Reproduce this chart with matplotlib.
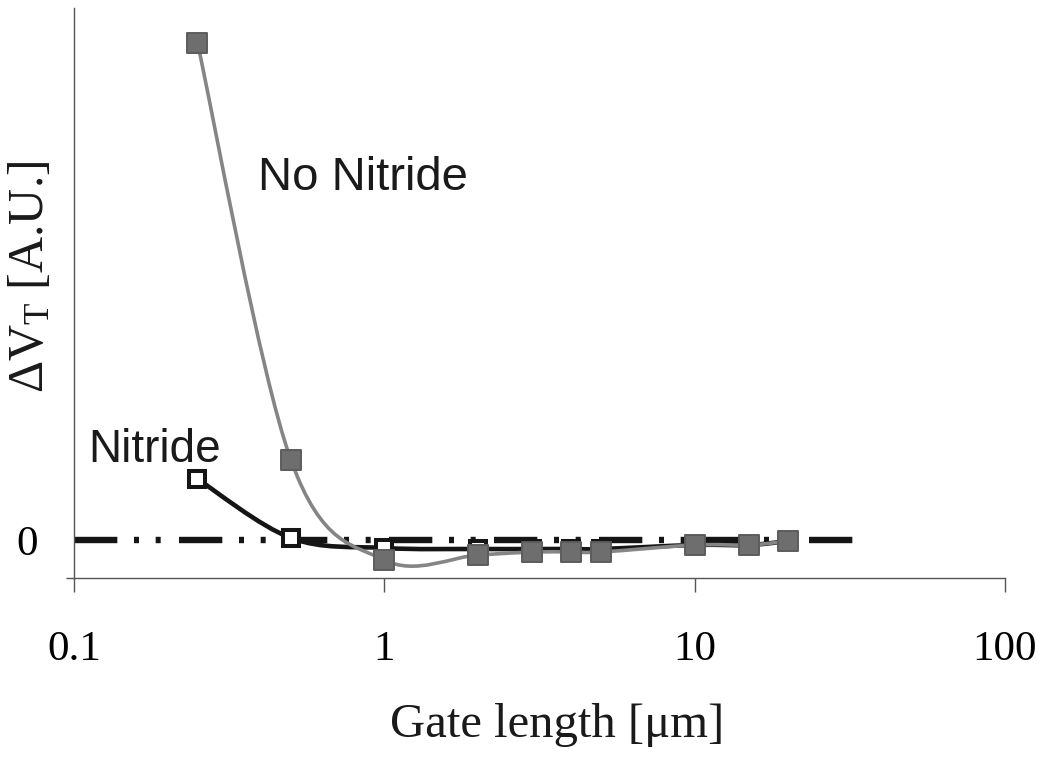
import numpy as np
import matplotlib
matplotlib.use("Agg")
import matplotlib.pyplot as plt
from matplotlib.path import Path
from matplotlib.patches import PathPatch
from matplotlib.markers import MarkerStyle

# ---- data ----
gate_length = [0.25, 0.5, 1, 2, 3, 4, 5, 10, 15, 20]
no_nitride = [9.94, 1.60, -0.40, -0.30, -0.24, -0.24, -0.24, -0.10, -0.10, -0.02]
nitride = [1.22, 0.04, -0.16, -0.18, -0.18, -0.18, -0.18, -0.10, -0.10, -0.02]
zero_x = [0.1, 32.6]
zero_y = [0, 0]
x_ticks = [0.1, 1, 10, 100]
x_tick_labels = ["0.1", "1", "10", "100"]
y_ticks = [0]
y_tick_labels = ["0"]

plt.rcParams['mathtext.fontset'] = 'custom'
plt.rcParams['mathtext.rm'] = 'Liberation Serif'
plt.rcParams['mathtext.it'] = 'Liberation Serif'
plt.rcParams['lines.scale_dashes'] = False

W, H = 1042, 761
fig = plt.figure(figsize=(W / 100, H / 100), dpi=100)
ax = fig.add_axes([74 / W, 1 - 578 / H, (1005 - 74) / W, (578 - 8) / H])
ax.set_xscale('log')
ax.set_xlim(0.1, 100)
ax.set_ylim(-0.76, 10.64)


def smooth_path(xs, ys):
    """Excel-style smoothed line as cubic Bezier (Catmull-Rom) in log-x space."""
    P = np.column_stack([np.log10(xs), ys])
    n = len(P)
    T = np.zeros_like(P)
    for i in range(n):
        a = P[max(i - 1, 0)]
        b = P[min(i + 1, n - 1)]
        T[i] = (b - a) / 2.0
    verts = [P[0]]
    codes = [Path.MOVETO]
    for i in range(n - 1):
        verts += [P[i] + T[i] / 3.0, P[i + 1] - T[i + 1] / 3.0, P[i + 1]]
        codes += [Path.CURVE4] * 3
    verts = np.array(verts)
    verts[:, 0] = 10 ** verts[:, 0]
    return Path(verts, codes)


# zero reference line (dash-dot-dot)
ax.plot(zero_x, zero_y, color='#151515', lw=4.6,
        dashes=[31.2, 12, 3.6, 12, 3.6, 13.2],
        dash_capstyle='butt', zorder=1, clip_on=False)

# Nitride series
ax.add_patch(PathPatch(smooth_path(gate_length, nitride), facecolor='none',
                       edgecolor='#151515', lw=3.3, zorder=2, capstyle='round',
                       joinstyle='round'))
ax.plot(gate_length, nitride, ls='none', marker=MarkerStyle('s', joinstyle='miter'),
        ms=11.8, mew=2.9, mfc='white', mec='#151515', zorder=3)

# No Nitride series
ax.add_patch(PathPatch(smooth_path(gate_length, no_nitride), facecolor='none',
                       edgecolor='#858585', lw=2.6, zorder=4, capstyle='round',
                       joinstyle='round'))
ax.plot(gate_length, no_nitride, ls='none', marker=MarkerStyle('s', joinstyle='round'),
        ms=15.0, mew=1.4, mfc='#6e6e6e', mec='#5c5c5c', zorder=5)

# spines
for s in ['top', 'right']:
    ax.spines[s].set_visible(False)
for s in ['left', 'bottom']:
    ax.spines[s].set_color('#555555')
    ax.spines[s].set_linewidth(1.0)

ax.set_xticks(x_ticks)
ax.set_xticklabels(x_tick_labels)
ax.xaxis.set_minor_locator(matplotlib.ticker.NullLocator())
ax.tick_params(axis='x', which='major', direction='out', length=10, width=1.0,
               color='#555555', pad=28, labelsize=31)
for t in ax.get_xticklabels():
    t.set_fontfamily('Liberation Serif')

ax.set_yticks(y_ticks)
ax.set_yticklabels(y_tick_labels)
ax.set_yticks([-0.76], minor=True)
ax.tick_params(axis='y', which='major', length=0, pad=26, labelsize=31)
ax.tick_params(axis='y', which='minor', direction='out', length=5.5, width=1.0,
               color='#555555')
for t in ax.get_yticklabels():
    t.set_fontfamily('Liberation Serif')

# axis labels
fig.text(557 / W, 1 - 737 / H, 'Gate length [\u03bcm]', ha='center',
         va='baseline', fontsize=35, family='Liberation Serif', color='#1a1a1a')
fig.text(54 / W, 1 - 277 / H, r'$\mathrm{\Delta V_T}$ [A.U.]', ha='right',
         va='center', rotation=90, fontsize=36, family='Liberation Serif',
         color='#1a1a1a')

# series annotations
fig.text(258 / W, 1 - 190 / H, 'No Nitride', ha='left', va='baseline',
         fontsize=34, family='Liberation Sans', color='#1a1a1a')
fig.text(88 / W, 1 - 462 / H, 'Nitride', ha='left', va='baseline',
         fontsize=33, family='Liberation Sans', color='#1a1a1a')

fig.savefig('out.png', dpi=100)
